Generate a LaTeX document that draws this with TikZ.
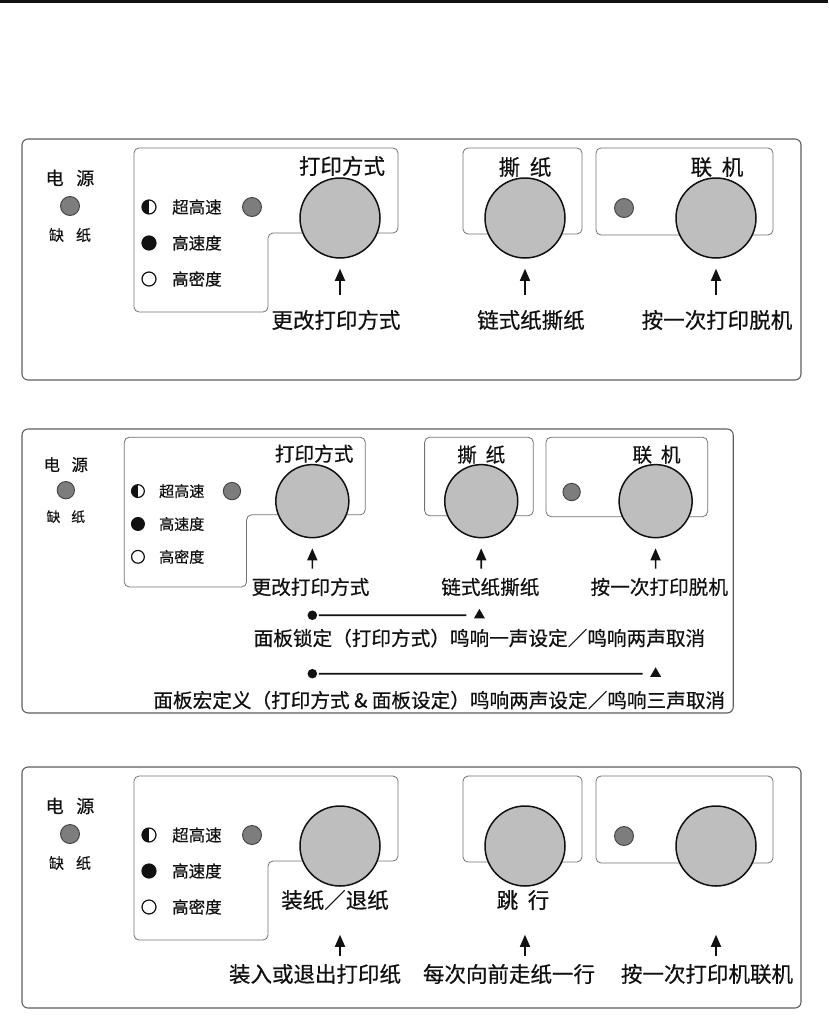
\documentclass[tikz,border=0pt]{standalone}
\usepackage{fontspec}
\newfontfamily\cjk[FakeBold=0.5]{Noto Sans CJK SC}
\usetikzlibrary{arrows.meta,shapes.geometric}
\definecolor{ink}{RGB}{17,17,17}
\definecolor{panelgray}{RGB}{95,95,95}
\definecolor{edgegray}{RGB}{115,115,115}
\definecolor{knobgray}{RGB}{190,190,190}
\definecolor{lampgray}{RGB}{125,125,125}
\tikzset{
  panel/.style={draw=panelgray, line width=1.1pt, rounded corners=6pt},
  keygroup/.style={draw=edgegray, line width=0.8pt, rounded corners=5pt},
  knob/.style={circle, draw=ink, line width=1.5pt, fill=knobgray, minimum size=80pt, inner sep=0pt},
  lamp/.style={circle, draw=ink!80, line width=0.9pt, fill=lampgray, minimum size=19pt, inner sep=0pt},
  ind/.style={circle, draw=ink, line width=1.2pt, minimum size=14pt, inner sep=0pt},
  indfull/.style={ind, fill=ink},
  indhalf/.style={ind, path picture={\fill[ink] (path picture bounding box.south west) rectangle (path picture bounding box.north);}},
  txt/.style={font=\cjk\fontsize{21.5}{24}\selectfont, text=ink, inner sep=0pt},
  stxt/.style={font=\cjk\fontsize{16.5}{19}\selectfont, text=ink, inner sep=0pt},
  uparr/.style={-{Triangle[length=12pt, width=10pt]}, line width=1.6pt, draw=ink},
  combo/.style={line width=1.8pt, draw=ink, shorten <=1.5pt, shorten >=9pt},
  blob/.style={circle, fill=ink, minimum size=10.5pt, inner sep=0pt},
  tri/.style={regular polygon, regular polygon sides=3, fill=ink, minimum size=14pt, inner sep=0pt},
  panelA/.style={},
  panelB/.style={shift={(1.914,302.1)}, scale=0.913, transform shape},
  panelC/.style={shift={(0,628)}},
}
\begin{document}
\begin{tikzpicture}[x=1pt, y=-1pt]
  \fill[white] (0,0) rectangle (828,1017);
  \useasboundingbox (0,0) rectangle (828,1017);
  \fill[ink] (0,0) rectangle (828,2.5);

  % the same front panel three times
  \foreach \sty/\pn/\bot in {panelA/a/380, panelB/b/450, panelC/c/380}{
    \begin{scope}[\sty, name prefix=\pn-]
      \draw[panel] (22,139) rectangle (801,\bot);
      \draw[keygroup] (134,148) -- (398,148) -- (398,233) -- (268,233) -- (268,312) -- (134,312) -- cycle;
      \draw[keygroup] (463,148) rectangle (582,234);
      \draw[keygroup] (596,148) rectangle (773,235);
      % power / paper out
      \node[stxt, font=\cjk\fontsize{18}{20}\selectfont] (pwr) at (70,178) {电\hspace{0.7em}源};
      \node[lamp] (lamp-pwr) at (70,206) {};
      \node[stxt, font=\cjk\fontsize{15}{18}\selectfont] (paper) at (70,235) {缺\hspace{0.8em}纸};
      % print mode
      \node[indhalf] (ind-1) at (149,207) {};
      \node[indfull] (ind-2) at (149,243) {};
      \node[ind] (ind-3) at (149,279) {};
      \node[stxt, anchor=west] (speed-1) at (172,207) {超高速};
      \node[stxt, anchor=west] (speed-2) at (172,243) {高速度};
      \node[stxt, anchor=west] (speed-3) at (172,279) {高密度};
      \node[lamp] (lamp-mode) at (252,207) {};
      \node[lamp] (lamp-on) at (624,208) {};
      % keys
      \node[knob] (key-mode) at (340,218) {};
      \node[knob] (key-tear) at (525,218) {};
      \node[knob] (key-on) at (716,218) {};
    \end{scope}
  }

  % panel 1
  \begin{scope}[panelA, name prefix=a-]
    \node[txt] (lbl-mode) at (342,166) {打印方式};
    \node[txt] (lbl-tear) at (525,167) {撕\hspace{0.45em}纸};
    \node[txt] (lbl-on) at (717,167) {联\hspace{0.45em}机};
    \node[txt] (txt-mode) at (336,320) {更改打印方式};
    \node[txt] (txt-tear) at (531,320) {链式纸撕纸};
    \node[txt] (txt-on) at (717,320) {按一次打印脱机};
    \foreach \k/\x in {mode/340, tear/525, on/716}{
      \coordinate (tail-\k) at (\x,295);
      \draw[uparr, shorten >=10pt] (tail-\k) -- (key-\k);
    }
  \end{scope}

  % panel 2
  \begin{scope}[panelB, name prefix=b-]
    \node[txt] (lbl-mode) at (342,166) {打印方式};
    \node[txt] (lbl-tear) at (525,167) {撕\hspace{0.45em}纸};
    \node[txt] (lbl-on) at (717,167) {联\hspace{0.45em}机};
    \node[txt] (txt-mode) at (338,312) {更改打印方式};
    \node[txt] (txt-tear) at (535,312) {链式纸撕纸};
    \node[txt] (txt-on) at (720,312) {按一次打印脱机};
    \foreach \k/\x in {mode/340, tear/525, on/716}{
      \coordinate (tail-\k) at (\x,292);
      \draw[uparr, shorten >=10pt] (tail-\k) -- (key-\k);
    }
    % key combinations
    \node[blob] (lock-a) at (340,343) {};
    \node[tri] (lock-b) at (523,343) {};
    \draw[combo] (lock-a) -- (lock-b);
    \node[txt] (txt-lock) at (523,368) {面板锁定（打印方式）鸣响一声设定／鸣响两声取消};
    \node[blob] (macro-a) at (340,407) {};
    \node[tri] (macro-b) at (716,407) {};
    \draw[combo] (macro-a) -- (macro-b);
    \node[txt] (txt-macro) at (479,436) {面板宏定义（打印方式 \& 面板设定）鸣响两声设定／鸣响三声取消};
  \end{scope}

  % panel 3
  \begin{scope}[panelC, name prefix=c-]
    \node[txt] (lbl-mode) at (335,272) {装纸／退纸};
    \node[txt] (lbl-tear) at (523,272) {跳\hspace{0.45em}行};
    \node[txt] (txt-mode) at (315,346) {装入或退出打印纸};
    \node[txt] (txt-tear) at (509,346) {每次向前走纸一行};
    \node[txt] (txt-on) at (707,346) {按一次打印机联机};
    \foreach \k/\x in {mode/340, tear/525, on/716}{
      \coordinate (tail-\k) at (\x,328);
      \draw[uparr, shorten >=48pt] (tail-\k) -- (key-\k);
    }
  \end{scope}
\end{tikzpicture}
\end{document}
